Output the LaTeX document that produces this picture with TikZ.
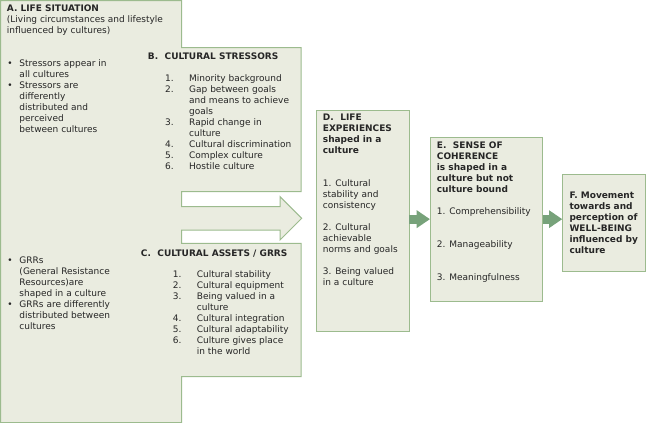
\documentclass[tikz,border=0pt]{standalone}
\usepackage{fontspec}
\setmainfont{DejaVu Sans}
\usetikzlibrary{arrows.meta}
\definecolor{boxFill}{HTML}{EAECE0}
\definecolor{boxLine}{HTML}{9CBB8E}
\definecolor{arrowFill}{HTML}{77A27A}
\definecolor{textGrey}{HTML}{262626}
%% text blocks: first line on the node's baseline
\newcommand{\blk}[1]{\begin{tabular}[t]{@{}l@{}}#1\end{tabular}}
\newcommand{\li}[2]{\makebox[24pt][l]{#1}#2}
\newcommand{\lc}[1]{\hspace*{24pt}#1}
\newcommand{\bl}[1]{\makebox[12pt][l]{\textbullet}#1}
\newcommand{\bc}[1]{\hspace*{12pt}#1}
\begin{document}
\begin{tikzpicture}
[x=1pt,y=-1pt,
  boxDecorate/.style={draw=boxLine,fill=boxFill,line width=1pt,inner sep=0pt,outer sep=0pt},%
  textDecorate/.style={anchor=base west,inner sep=0pt,text=textGrey,font=\fontsize{9}{11}\selectfont},%
  arrowDecorate/.style={draw=arrowFill,line width=9pt,-{Triangle[length=13.3pt,width=17pt,fill=arrowFill]}}]
\useasboundingbox (0,0) rectangle (646,423);
%% big shape: life situation with stressors, assets and arrow
\path[boxDecorate] (0.5,0.5) -- (181.7,0.5) -- (181.7,47.7) -- (301,47.7) -- (301,191.7)
  -- (181.7,191.7) -- (181.7,206.7) -- (280,206.7) -- (280,196.7) -- (301.7,218.3)
  -- (280,240) -- (280,230) -- (181.7,230) -- (181.7,243.3) -- (301,243.3)
  -- (301,376.7) -- (181.7,376.7) -- (181.7,422.5) -- (0.5,422.5) -- cycle;
%% boxes D, E, F
\foreach \boxname/\xa/\ya/\xb/\yb in {
  D/316/110/409.3/331, E/430/137.3/542.7/301, F/562.3/174/645.7/271}
{
  \node (\boxname) at ({(\xa+\xb)/2},{(\ya+\yb)/2}) [boxDecorate,
    minimum width={\xb-\xa}, minimum height={\yb-\ya}] {};
}
%% texts
\node (lifeTitle) at (6.7,11) [textDecorate] {\blk{\bfseries A. LIFE SITUATION\\
  (Living circumstances and lifestyle\\influenced by cultures)}};
\node (lifeStress) at (7.3,66.7) [textDecorate] {\blk{\bl{Stressors appear in}\\\bc{all cultures}\\
  \bl{Stressors are}\\\bc{differently}\\\bc{distributed and}\\\bc{perceived}\\\bc{between cultures}}};
\node (lifeGrr) at (7.3,263.3) [textDecorate] {\blk{\bl{GRRs}\\\bc{(General Resistance}\\
  \bc{Resources)are}\\\bc{shaped in a culture}\\\bl{GRRs are differently}\\
  \bc{distributed between}\\\bc{cultures}}};
\node (stressTitle) at (147.7,59) [textDecorate] {\bfseries B.\hspace{6.5pt}CULTURAL STRESSORS};
\node (stressList) at (165,81.7) [textDecorate] {\blk{\li{1.}{Minority background}\\
  \li{2.}{Gap between goals}\\\lc{and means to achieve}\\\lc{goals}\\
  \li{3.}{Rapid change in}\\\lc{culture}\\\li{4.}{Cultural discrimination}\\
  \li{5.}{Complex culture}\\\li{6.}{Hostile culture}}};
\node (assetTitle) at (140.7,256) [textDecorate] {\bfseries C.\hspace{6.5pt}CULTURAL ASSETS / GRRS};
\node (assetList) at (172.7,277.7) [textDecorate] {\blk{\li{1.}{Cultural stability}\\
  \li{2.}{Cultural equipment}\\\li{3.}{Being valued in a}\\\lc{culture}\\
  \li{4.}{Cultural integration}\\\li{5.}{Cultural adaptability}\\
  \li{6.}{Culture gives place}\\\lc{in the world}}};
\node (experText) at (322.7,120.7) [textDecorate] {\blk{\bfseries D.\hspace{6.5pt}LIFE\\
  \bfseries EXPERIENCES\\\bfseries shaped in a\\\bfseries culture\\ \\ \\
  1. Cultural\\stability and\\consistency\\ \\2. Cultural\\achievable\\norms and goals\\ \\
  3. Being valued\\in a culture}};
\node (coherText) at (436.7,148.3) [textDecorate] {\blk{\bfseries E.\hspace{6.5pt}SENSE OF\\
  \bfseries COHERENCE\\\bfseries is shaped in a\\\bfseries culture but not\\
  \bfseries culture bound\\ \\1. Comprehensibility\\ \\ \\2. Manageability\\ \\ \\
  3. Meaningfulness}};
\node (wellText) at (569.3,198.3) [textDecorate] {\blk{\bfseries F. Movement\\
  \bfseries towards and\\\bfseries perception of\\\bfseries WELL-BEING\\
  \bfseries influenced by\\\bfseries culture}};
%% arrows
\draw[arrowDecorate] (D.east |- E.west) -- (E.west);
\draw[arrowDecorate] (E.east) -- (F.west |- E.east);
\end{tikzpicture}
\end{document}
